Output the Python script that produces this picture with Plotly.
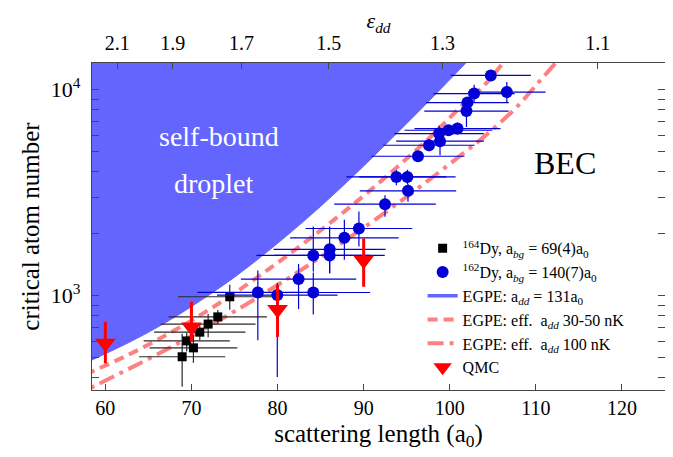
import plotly.graph_objects as go

# ---------------- data ----------------
# 162Dy (blue circles)
dy162_a = [104.77, 102.83, 106.63, 102.06, 101.94, 100.90, 99.85, 98.76, 98.87, 97.59,
           96.31, 93.80, 95.08, 95.15, 92.48, 89.45, 87.76, 86.05, 86.05, 84.15,
           84.15, 82.44, 77.71, 79.97]
dy162_N = [11720, 9570, 9730, 8650, 7870, 6470, 6350, 6120, 5620, 5370,
           4750, 3770, 3770, 3230, 2780, 2120, 1910, 1680, 1570, 1570,
           1037, 1205, 1038, 1008]
dy162_ea = [4.65, 4.7, 4.5, 4.8, 4.9, 5.0, 5.1, 5.2, 5.1, 5.3,
            5.4, 5.8, 5.6, 5.6, 5.9, 6.2, 6.3, 6.5, 6.4, 6.6,
            6.6, 6.7, 7.0, 7.0]
dy162_eN_up = [700, 1000, 1150, 490, 640, 450, 360, 570, 450, 380,
               270, 300, 310, 260, 290, 440, 425, 490, 190, 600,
               260, 220, 290, 145]
dy162_eN_dn = [650, 900, 1030, 470, 1284, 420, 340, 520, 812, 350,
               260, 330, 290, 374, 360, 385, 416, 395, 285, 260,
               226, 343, 430, 604]

# 164Dy (black squares)
dy164_a = [74.45, 73.06, 71.94, 70.97, 69.45, 70.23, 68.92]
dy164_N = [989, 790, 729, 666, 604, 559, 506]
dy164_ea = [6.0, 5.7, 5.5, 5.3, 5.0, 5.1, 5.0]
dy164_eN_up = [142, 64, 86, 62, 58, 87, 148]
dy164_eN_dn = [134, 60, 99, 57, 67, 86, 144]

# QMC (red arrows)
qmc_a = [60, 70, 80, 90]
qmc_N = [588, 705, 859, 1489]
qmc_eN_up = [160, 231, 268, 408]
qmc_eN_dn = [118, 107, 227, 383]

# EGPE a_dd = 131 a0 : self-bound boundary
egpe_a = [50.0, 54.0, 58.45, 62.9, 67, 71, 75, 79, 83, 87, 91, 95, 99, 102, 104]
egpe_N = [331, 398, 488, 598, 741, 944, 1230, 1660, 2291, 3236, 4677, 6839, 10116, 13646, 16788]

# EGPE eff. a_dd 30-50 nK (dashed)
eff1_a = [56.0, 58.45, 62, 66, 70, 74, 78, 82, 86, 90, 94, 98, 101, 104, 106, 107]
eff1_N = [385, 429, 501, 610, 759, 966, 1259, 1667, 2239, 3055, 4246, 6026, 8035, 10471, 13183, 14962]

# EGPE eff. a_dd 100 nK (dash-dot)
eff2_a = [56.0, 58.45, 62, 66, 70, 74, 78, 82, 86, 90, 94, 98, 102, 104, 106, 108, 110, 112, 113]
eff2_N = [322, 360, 427, 519, 638, 794, 1000, 1274, 1641, 2138, 2818, 3758, 5070, 5916, 6998,
          8414, 10471, 13032, 14622]

# axes
x_ticks = [60, 70, 80, 90, 100, 110, 120]
eps_ticks = [2.1, 1.9, 1.7, 1.5, 1.3, 1.1]
eps_labels = ["2.1", "1.9", "1.7", "1.5", "1.3", "1.1"]
A_DD_TOP = 128.9
y_major = [1000, 10000]
y_major_text = ["10<sup>3</sup>", "10<sup>4</sup>"]
y_minor = [400, 500, 600, 700, 800, 900, 2000, 3000, 4000, 5000, 6000, 7000, 8000, 9000]

X_RANGE = [58.45, 125.0]
Y_RANGE = [2.543, 4.129]

FONT = "Liberation Serif"
BLUE_FILL = "rgb(100,100,255)"
PINK = "rgb(255,128,128)"
DOT_BLUE = "rgb(0,0,215)"

fig = go.Figure()

# self-bound region
fig.add_trace(go.Scatter(x=egpe_a, y=egpe_N, mode="lines", fill="tozerox",
                         fillcolor=BLUE_FILL, line=dict(color=BLUE_FILL, width=1, shape="spline"),
                         showlegend=False, hoverinfo="skip"))
# legend entry for the EGPE line (on top axis so it exists)
fig.add_trace(go.Scatter(x=[None], y=[None], mode="lines", xaxis="x2",
                         line=dict(color=BLUE_FILL, width=3.5),
                         name="EGPE: a<sub><i>dd</i></sub> = 131a<sub>0</sub>", legendrank=3))

fig.add_trace(go.Scatter(x=eff1_a, y=eff1_N, mode="lines",
                         line=dict(color=PINK, width=4, dash="10px,6px", shape="spline"),
                         name="EGPE: eff.  a<sub><i>dd</i></sub> 30-50 nK", legendrank=4))
fig.add_trace(go.Scatter(x=eff2_a, y=eff2_N, mode="lines",
                         line=dict(color=PINK, width=4, dash="16px,6px,4px,6px", shape="spline"),
                         name="EGPE: eff.  a<sub><i>dd</i></sub> 100 nK", legendrank=5))

fig.add_trace(go.Scatter(
    x=dy164_a, y=dy164_N, mode="markers",
    marker=dict(symbol="square", size=9, color="black"),
    error_x=dict(type="data", array=dy164_ea, color="rgb(40,40,40)", thickness=1.2, width=0),
    error_y=dict(type="data", array=dy164_eN_up, arrayminus=dy164_eN_dn, symmetric=False,
                 color="rgb(40,40,40)", thickness=1.2, width=0),
    name="<sup>164</sup>Dy, a<sub><i>bg</i></sub> = 69(4)a<sub>0</sub>", legendrank=1))

fig.add_trace(go.Scatter(
    x=dy162_a, y=dy162_N, mode="markers",
    marker=dict(symbol="circle", size=12, color=DOT_BLUE),
    error_x=dict(type="data", array=dy162_ea, color=DOT_BLUE, thickness=1.2, width=0),
    error_y=dict(type="data", array=dy162_eN_up, arrayminus=dy162_eN_dn, symmetric=False,
                 color=DOT_BLUE, thickness=1.2, width=0),
    name="<sup>162</sup>Dy, a<sub><i>bg</i></sub> = 140(7)a<sub>0</sub>", legendrank=2))

fig.add_trace(go.Scatter(
    x=qmc_a, y=qmc_N, mode="markers",
    marker=dict(symbol="triangle-down", size=18, color="red"),
    error_y=dict(type="data", array=qmc_eN_up, arrayminus=qmc_eN_dn, symmetric=False,
                 color="red", thickness=3, width=0),
    name="QMC", legendrank=6))

axis_col = "rgb(70,70,70)"
fig.update_layout(
    width=665, height=449,
    margin=dict(l=84, r=8, t=55, b=67, autoexpand=False),
    paper_bgcolor="white", plot_bgcolor="white",
    font=dict(family=FONT, size=17, color="black"),
    showlegend=True,
    legend=dict(x=0.577, y=0.4855, xanchor="left", yanchor="top",
                bgcolor="rgba(0,0,0,0)", borderwidth=0,
                font=dict(family=FONT, size=16), tracegroupgap=0),
    xaxis=dict(range=X_RANGE, tickvals=x_ticks, ticks="inside", ticklen=6,
               tickcolor=axis_col, showline=True, linecolor=axis_col, linewidth=1.2,
               mirror=True, showgrid=False, zeroline=False, automargin=False,
               tickfont=dict(size=20),
               title=dict(text="scattering length (a<sub>0</sub>)", font=dict(size=25), standoff=6)),
    xaxis2=dict(range=X_RANGE, overlaying="x", side="top", anchor="y",
                tickvals=[A_DD_TOP / e for e in eps_ticks], ticktext=eps_labels,
                ticks="inside", ticklen=6, tickcolor=axis_col, showgrid=False,
                zeroline=False, showline=False, automargin=False, tickfont=dict(size=20),
                ticklabelstandoff=8,
                title=dict(text="<i>ε<sub>dd</sub></i>", font=dict(size=22), standoff=1)),
    yaxis=dict(type="log", range=Y_RANGE, tickvals=y_major, ticktext=y_major_text,
               ticks="inside", ticklen=7, tickcolor=axis_col, showline=True,
               linecolor=axis_col, linewidth=1.2, mirror="allticks", showgrid=False,
               zeroline=False, automargin=False, tickfont=dict(size=22), ticklabelstandoff=6,
               minor=dict(tickvals=y_minor, ticks="inside", ticklen=4, tickcolor=axis_col, showgrid=False),
               title=dict(text="critical atom number", font=dict(size=25), standoff=4)),
)

fig.add_annotation(x=0.222, y=0.775, xref="paper", yref="paper", text="self-bound",
                   xanchor="center", yanchor="middle",
                   showarrow=False, font=dict(family=FONT, size=28, color="white"))
fig.add_annotation(x=0.213, y=0.632, xref="paper", yref="paper", text="droplet",
                   xanchor="center", yanchor="middle",
                   showarrow=False, font=dict(family=FONT, size=28, color="white"))
fig.add_annotation(x=0.825, y=0.693, xref="paper", yref="paper", text="BEC",
                   xanchor="center", yanchor="middle",
                   showarrow=False, font=dict(family=FONT, size=32, color="black"))

fig.write_html("out.html")
